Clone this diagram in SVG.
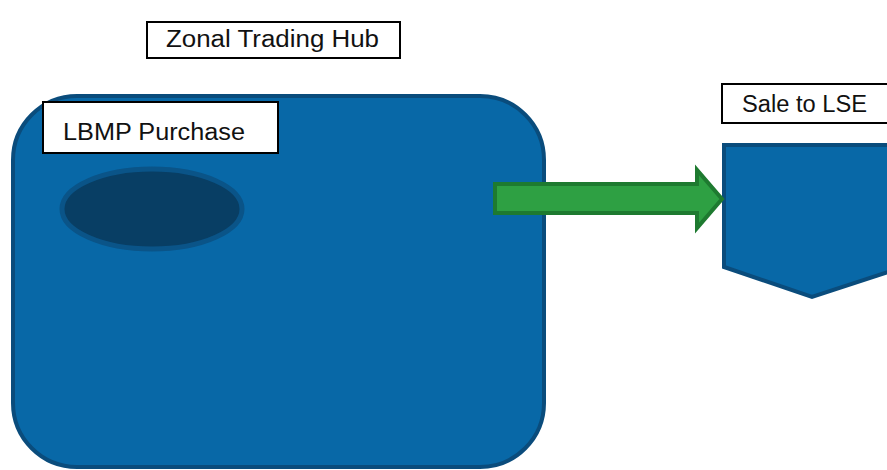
<svg xmlns="http://www.w3.org/2000/svg" width="887" height="470" viewBox="0 0 887 470">
  <style>
    .label-box { fill: #ffffff; stroke: #000000; stroke-width: 2; }
    .label { font-family: "Liberation Sans", Arial, sans-serif; font-size: 23px; fill: #111111; }
    .blue { fill: #0868a7; stroke: #0a4c7c; stroke-width: 4; }
    .flow { fill: #2ea043; stroke: #1e7a30; stroke-width: 4; stroke-linejoin: miter; }
  </style>

  <rect width="887" height="470" fill="#ffffff"/>

  <!-- Zonal trading hub container -->
  <g id="hub">
    <rect class="blue" x="13" y="96" width="531" height="371" rx="64" ry="64"/>
  </g>

  <!-- Zone title -->
  <g id="hub-title">
    <rect class="label-box" x="147" y="22" width="253" height="36"/>
    <text class="label" x="166" y="47" textLength="213" lengthAdjust="spacingAndGlyphs">Zonal Trading Hub</text>
  </g>

  <!-- LBMP purchase label -->
  <g id="lbmp-purchase">
    <rect class="label-box" x="43" y="102" width="235" height="51"/>
    <text class="label" x="63" y="140" textLength="182" lengthAdjust="spacingAndGlyphs">LBMP Purchase</text>
  </g>

  <!-- Purchase point inside the hub -->
  <g id="purchase-point">
    <ellipse cx="152" cy="209" rx="90" ry="40" fill="#083e64" stroke="#0a5488" stroke-width="5"/>
  </g>

  <!-- Load-serving entity shape -->
  <g id="lse">
    <path class="blue" d="M724,145 L903,145 L903,267 L812,297 L724,267 Z"/>
  </g>

  <g id="lse-title">
    <rect class="label-box" x="722" y="84" width="170" height="39"/>
    <text class="label" x="742" y="112" textLength="125" lengthAdjust="spacingAndGlyphs">Sale to LSE</text>
  </g>

  <!-- Connectors -->
  <g id="connectors">
    <path class="flow" d="M495,184 L697,184 L697,170 L722,199 L697,228 L697,213 L495,213 Z"/>
  </g>
</svg>
